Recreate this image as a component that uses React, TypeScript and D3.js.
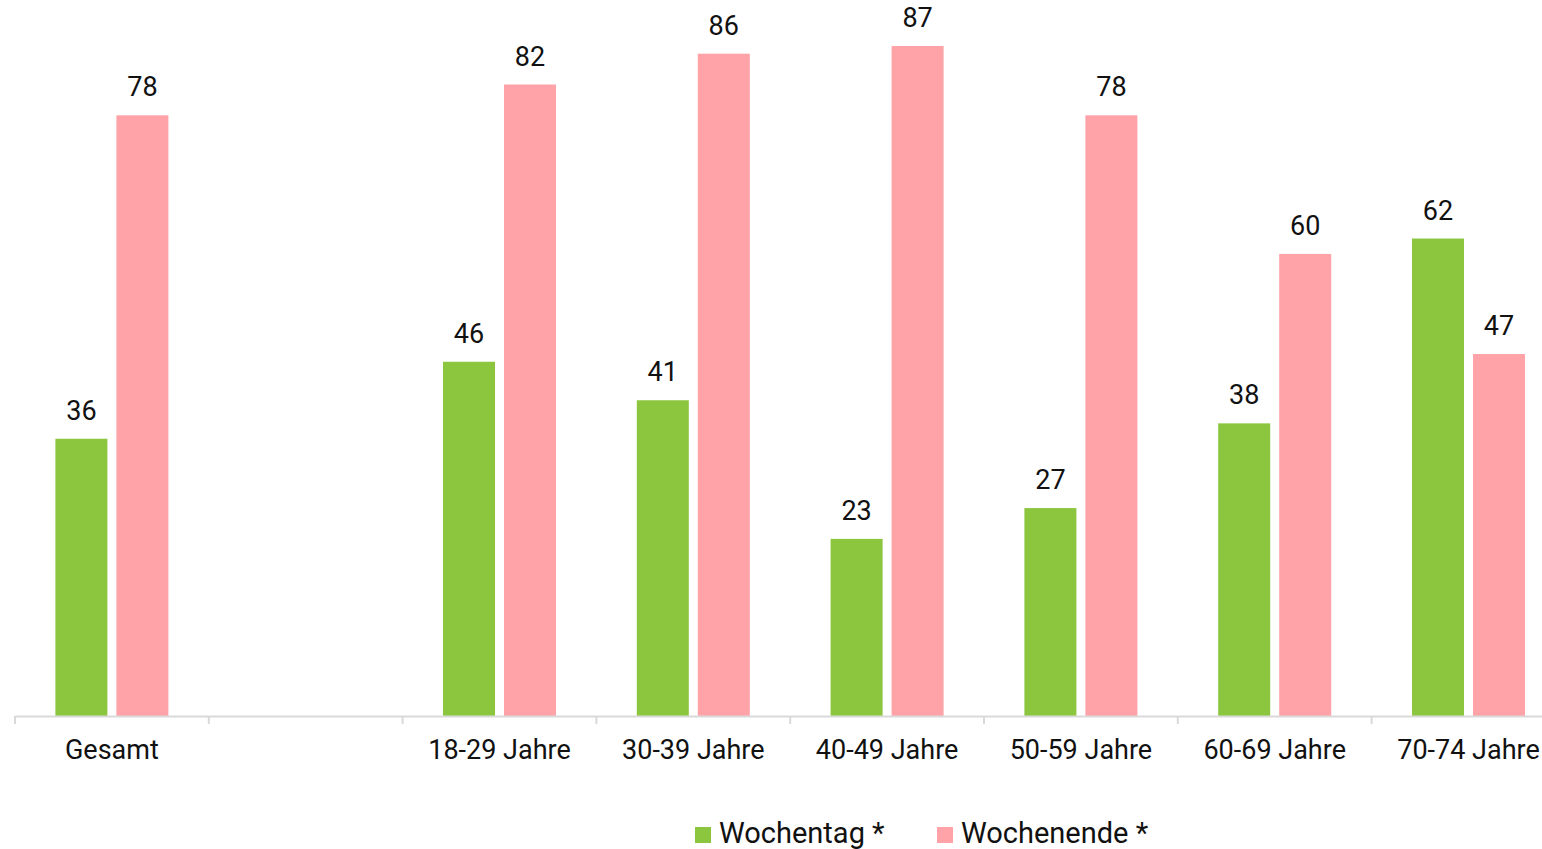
import React from "react";
import * as d3 from "d3";

const categories = ["Gesamt", "", "18-29 Jahre", "30-39 Jahre", "40-49 Jahre", "50-59 Jahre", "60-69 Jahre", "70-74 Jahre"];
const wochentag: (number | null)[] = [36, null, 46, 41, 23, 27, 38, 62];
const wochenende: (number | null)[] = [78, null, 82, 86, 87, 78, 60, 47];
const seriesNames = ["Wochentag *", "Wochenende *"];
const colors = ["#8CC63E", "#FFA3A8"];

const W = 1542;
const H = 849;

export default function App() {
  const x = d3.scaleBand<string>().domain(categories.map((c, i) => String(i))).range([15, 15 + 8 * 193.8]);
  const y = d3.scaleLinear().domain([0, 87]).range([716, 46]);
  const barW = 52;
  const offsets = [-30.5, 30.5];
  const series = [wochentag, wochenende];
  const font = "Roboto, 'Noto Sans', sans-serif";
  return (
    <svg width={W} height={H} style={{ position: "absolute", left: 0, top: 0, background: "#fff" }} fontFamily={font}>
      {series.map((vals, si) =>
        vals.map((v, i) => {
          if (v == null) return null;
          const cx = (x(String(i)) as number) + x.bandwidth() / 2 + offsets[si];
          return (
            <g key={`${si}-${i}`}>
              <rect x={cx - barW / 2} y={y(v)} width={barW} height={y(0) - y(v)} fill={colors[si]} />
              <text x={cx} y={y(v) - 19} textAnchor="middle" fontSize={27} fill="#111">{v}</text>
            </g>
          );
        })
      )}
      <line x1={15} x2={W} y1={716.5} y2={716.5} stroke="#d9d9d9" strokeWidth={2} />
      {categories.map((c, i) => {
        const x0 = x(String(i)) as number;
        return <line key={"t" + i} x1={x0} x2={x0} y1={716} y2={724} stroke="#d9d9d9" strokeWidth={2} />;
      })}
      {categories.map((c, i) => (
        <text key={"l" + i} x={(x(String(i)) as number) + x.bandwidth() / 2} y={759} textAnchor="middle" fontSize={27} fill="#111">{c}</text>
      ))}
      <g>
        <rect x={695} y={827} width={16} height={16} fill={colors[0]} />
        <text x={719} y={843} fontSize={29} fill="#111">{seriesNames[0]}</text>
        <rect x={937} y={827} width={16} height={16} fill={colors[1]} />
        <text x={961} y={843} fontSize={29} fill="#111">{seriesNames[1]}</text>
      </g>
    </svg>
  );
}
